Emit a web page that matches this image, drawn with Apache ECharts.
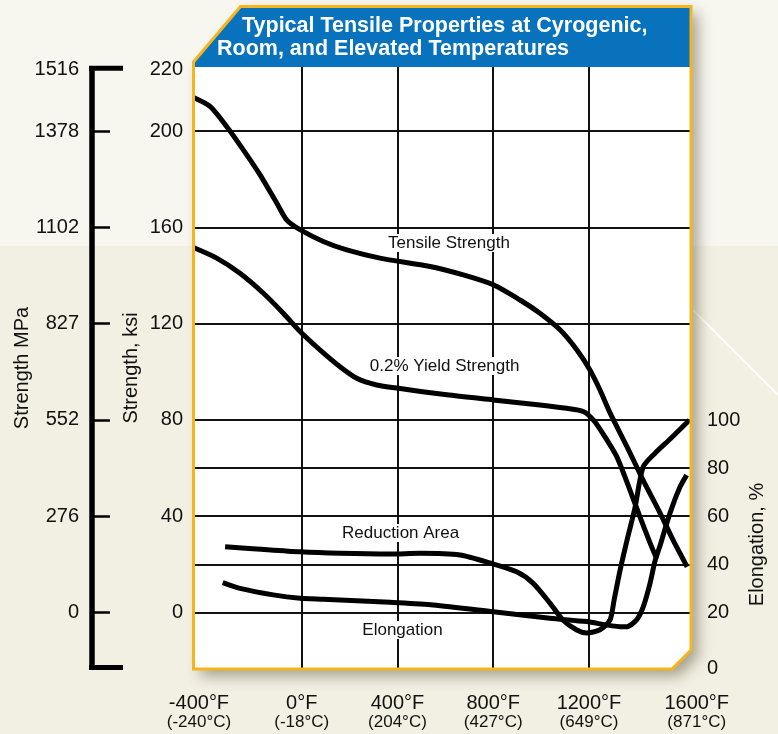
<!DOCTYPE html>
<html>
<head>
<meta charset="utf-8">
<title>Typical Tensile Properties</title>
<script src="https://cdn.jsdelivr.net/npm/echarts@6.0.0/dist/echarts.min.js"></script>
<style>
  html, body { margin: 0; padding: 0; background: #f2f0e3; }
  #chart { width: 778px; height: 734px; }
</style>
</head>
<body>
<div id="chart"></div>
<script>
// temperature axis (°F), with the matching °C labels
const tempTicks = [-400, 0, 400, 800, 1200, 1600];
const tempCLabels = ['-240', '-18', '204', '427', '649', '871'];
const tempGrid = [0, 400, 800, 1200];

// strength axes: ksi on the grid, MPa on the bracket
const ksiTicks = [0, 40, 80, 120, 160, 200, 220];
const ksiGrid = [0, 40, 80, 120, 160, 200];
const mpaTicks = [0, 276, 552, 827, 1102, 1378, 1516];

// elongation / reduction axis (%)
const elongTicks = [0, 20, 40, 60, 80, 100];
const elongGrid = [40, 80];

// curves
const tensileF   = [-450, -383, -313, -244, -174, -104, -63, -7, 90, 188, 327, 536, 675, 800, 912, 995, 1079, 1149, 1204, 1246, 1288, 1359, 1426, 1497, 1551, 1610];
const tensileKsi = [213.8, 210.2, 201.8, 192.2, 181.8, 170.0, 163.1, 159.0, 154.1, 150.6, 147.2, 143.7, 140.2, 136.1, 129.8, 124.3, 117.4, 109.1, 100.7, 92.4, 82.9, 68.8, 55.0, 41.3, 30.1, 18.9];

const yieldF   = [-450, -355, -258, -160, -77, -7, 76, 160, 230, 313, 404, 606, 800, 995, 1107, 1176, 1218, 1260, 1316, 1372, 1413, 1455, 1483];
const yieldKsi = [151.5, 147.2, 140.9, 132.6, 124.3, 116.7, 109.1, 102.1, 97.3, 94.5, 93.1, 90.4, 88.3, 86.2, 84.8, 83.5, 80.0, 74.0, 64.7, 50.6, 39.7, 28.9, 22.3];

const reductionF   = [-320, -188, -7, 160, 369, 494, 661, 786, 898, 966, 1037, 1091, 1149, 1190, 1246, 1288, 1305, 1330, 1359, 1392, 1426, 1476, 1539, 1620];
const reductionPct = [47.3, 46.4, 45.2, 44.6, 44.3, 44.6, 43.9, 40.6, 36.9, 32.2, 23.9, 16.9, 12.7, 11.5, 12.8, 16.9, 25.2, 37.6, 50.1, 63.4, 80.4, 86.2, 92.1, 100];

const elongF   = [-330, -258, -119, -7, 90, 230, 369, 549, 800, 1037, 1190, 1330, 1358, 1399, 1427, 1455, 1476, 1497, 1538, 1580, 1608];
const elongPct = [32.4, 30.0, 27.3, 25.9, 25.5, 24.9, 24.2, 23.1, 20.3, 17.6, 16.2, 14.1, 14.1, 16.9, 22.4, 32.1, 41.4, 47.8, 61.2, 72.1, 77.1];

// where the curve names sit
const tensileLabelAt   = [615, 153.5];
const yieldLabelAt     = [597, 102.4];
const reductionLabelAt = [413, 53.0];
const elongLabelAt     = [421, 12.7];

const FONT = '"Liberation Sans", Arial, Helvetica, sans-serif';
const INK = '#111';

const chart = echarts.init(document.getElementById('chart'));

const zip = (xs, ys) => xs.map((x, i) => [x, ys[i]]);

// curve name written on a white patch
const curveLabel = (name, coord) => ({
  silent: true,
  symbol: 'rect',
  symbolSize: 1,
  itemStyle: { color: 'rgba(0,0,0,0)' },
  label: {
    show: true,
    position: 'inside',
    formatter: '{b}',
    color: INK,
    fontFamily: FONT,
    fontSize: 17,
    backgroundColor: '#fff',
    padding: [1, 3, 0, 3]
  },
  data: [{ name, coord }]
});

const curve = (name, data, xi, yi, label) => ({
  name,
  type: 'line',
  xAxisIndex: xi,
  yAxisIndex: yi,
  data,
  showSymbol: false,
  smooth: 0.25,
  clip: false,
  lineStyle: { color: '#000', width: 5, join: 'round' },
  markPoint: label
});

const gridLine = { show: true, lineStyle: { color: INK, width: 2 } };
const labelText = { color: INK, fontFamily: FONT, fontSize: 20 };

const tempLabel = v => {
  const i = tempTicks.indexOf(v);
  const s = i === 0 ? 'L' : (i === tempTicks.length - 1 ? 'R' : '');
  return `{f${s}|${v}°F}\n{c${s}|(${tempCLabels[i]}°C)}`;
};

const option = {
  animation: false,
  backgroundColor: '#f2f0e3',
  textStyle: { fontFamily: FONT },
  title: {
    left: 217,
    top: 15,
    padding: 0,
    text: '{a|Typical Tensile Properties at Cyrogenic,}\n{b|Room, and Elevated Temperatures}',
    textStyle: {
      rich: {
        a: { color: '#fff', fontFamily: FONT, fontWeight: 'bold', fontSize: 21.5, lineHeight: 23, padding: [0, 0, 0, 25] },
        b: { color: '#fff', fontFamily: FONT, fontWeight: 'bold', fontSize: 21.5, lineHeight: 23 }
      }
    },
    z: 20
  },
  grid: [
    { left: 194, right: 88, top: 67, bottom: 65, containLabel: false, outerBoundsMode: 'none' },
    { left: 194, right: 88, top: 420, bottom: 65, containLabel: false, outerBoundsMode: 'none' }
  ],
  xAxis: [
    {
      gridIndex: 0, type: 'value', min: -450, max: 1622,
      axisLine: { show: false },
      axisTick: { show: false, customValues: tempGrid },
      splitLine: gridLine,
      axisLabel: {
        customValues: tempTicks,
        margin: 25,
        formatter: tempLabel,
        rich: {
          f:  { color: INK, fontFamily: FONT, fontSize: 20, lineHeight: 19, align: 'center' },
          c:  { color: INK, fontFamily: FONT, fontSize: 17, lineHeight: 19, align: 'center' },
          fL: { color: INK, fontFamily: FONT, fontSize: 20, lineHeight: 19, align: 'center', padding: [0, 14, 0, 0] },
          cL: { color: INK, fontFamily: FONT, fontSize: 17, lineHeight: 19, align: 'center', padding: [0, 14, 0, 0] },
          fR: { color: INK, fontFamily: FONT, fontSize: 20, lineHeight: 19, align: 'center', padding: [0, 0, 0, 24] },
          cR: { color: INK, fontFamily: FONT, fontSize: 17, lineHeight: 19, align: 'center', padding: [0, 0, 0, 24] }
        }
      }
    },
    {
      gridIndex: 1, type: 'value', min: -450, max: 1622,
      axisLine: { show: false }, axisTick: { show: false },
      axisLabel: { show: false }, splitLine: { show: false }
    }
  ],
  yAxis: [
    {
      gridIndex: 0, type: 'value', position: 'left', min: -23.5, max: 226.6,
      name: 'Strength, ksi', nameLocation: 'middle', nameGap: 53, nameMoveOverlap: false,
      nameTextStyle: labelText,
      axisLine: { show: false },
      axisTick: { show: false, customValues: ksiGrid },
      splitLine: gridLine,
      axisLabel: {
        ...labelText,
        customValues: ksiTicks,
        margin: 11,
        formatter: v => (v === 220 ? '{top|220}' : String(v)),
        rich: { top: { ...labelText, padding: [0, 0, 26, 0] } }
      }
    },
    {
      gridIndex: 0, type: 'value', position: 'left', offset: 102, min: -23.5, max: 226.6,
      name: 'Strength MPa', nameLocation: 'middle', nameGap: 60, nameMoveOverlap: false,
      nameTextStyle: labelText,
      axisLine: { show: true, lineStyle: { color: '#000', width: 5.5, cap: 'butt' } },
      axisTick: { show: true, inside: true, length: 18, customValues: ksiGrid, lineStyle: { color: '#000', width: 2.5 } },
      splitLine: { show: false },
      axisLabel: {
        ...labelText,
        customValues: ksiTicks,
        margin: 13,
        formatter: v => {
          const t = mpaTicks[ksiTicks.indexOf(v)];
          return v === 220 ? `{top|${t}}` : String(t);
        },
        rich: { top: { ...labelText, padding: [0, 0, 26, 0] } }
      }
    },
    {
      gridIndex: 1, type: 'value', position: 'right', min: -3.5, max: 100,
      name: 'Elongation, %', nameLocation: 'middle', nameGap: 57, nameMoveOverlap: false,
      nameTextStyle: labelText,
      axisLine: { show: false },
      axisTick: { show: false, customValues: elongGrid },
      splitLine: gridLine,
      axisLabel: {
        ...labelText,
        customValues: elongTicks,
        margin: 17,
        formatter: v => (v === 0 ? '{bot|0}' : String(v)),
        rich: { bot: { ...labelText, padding: [15, 0, 0, 0] } }
      }
    }
  ],
  graphic: [
    { type: 'rect', z: -100, silent: true, shape: { x: 0, y: 0, width: 778, height: 246 }, style: { fill: '#f7f6ef' } },
    { type: 'line', z: -99, silent: true, shape: { x1: 693, y1: 310, x2: 778, y2: 395 }, style: { stroke: 'rgba(255,255,255,0.9)', lineWidth: 2 } },
    // plot card with drop shadow
    {
      type: 'polygon', z: -90, silent: true,
      shape: { points: [[193.5, 62], [240.5, 6.5], [691, 6.5], [691, 650], [672, 669], [193.5, 669]] },
      style: { fill: '#fff', shadowBlur: 14, shadowOffsetX: 7, shadowOffsetY: 7, shadowColor: 'rgba(70,65,40,0.45)' }
    },
    {
      type: 'polygon', z: -80, silent: true,
      shape: { points: [[193.5, 62], [240.5, 6.5], [691, 6.5], [691, 67], [193.5, 67]] },
      style: { fill: '#0873bc' }
    },
    {
      type: 'polygon', z: 100, silent: true,
      shape: { points: [[193.5, 62], [240.5, 6.5], [691, 6.5], [691, 650], [672, 669], [193.5, 669]] },
      style: { fill: 'none', stroke: '#f7b51d', lineWidth: 3 }
    },
    // bracket ends on the MPa scale
    { type: 'line', z: 100, silent: true, shape: { x1: 89, y1: 68.3, x2: 123, y2: 68.3 }, style: { stroke: '#000', lineWidth: 5 } },
    { type: 'line', z: 100, silent: true, shape: { x1: 89, y1: 667.5, x2: 123, y2: 667.5 }, style: { stroke: '#000', lineWidth: 5 } }
  ],
  series: [
    curve('Tensile Strength', zip(tensileF, tensileKsi), 0, 0, curveLabel('Tensile Strength', tensileLabelAt)),
    curve('0.2% Yield Strength', zip(yieldF, yieldKsi), 0, 0, curveLabel('0.2% Yield Strength', yieldLabelAt)),
    curve('Reduction Area', zip(reductionF, reductionPct), 1, 2, curveLabel('Reduction Area', reductionLabelAt)),
    curve('Elongation', zip(elongF, elongPct), 1, 2, curveLabel('Elongation', elongLabelAt))
  ]
};

chart.setOption(option);
</script>
</body>
</html>
